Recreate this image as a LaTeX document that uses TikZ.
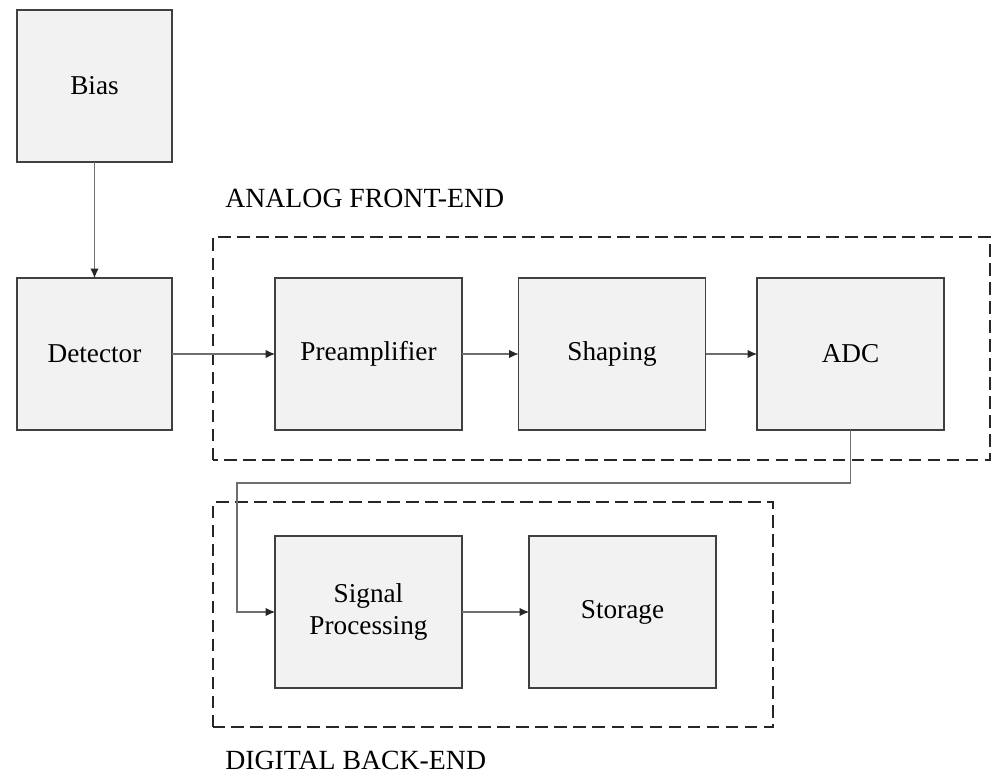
\documentclass[tikz,border=0pt]{standalone}
\usepackage{fontspec}
\setmainfont{Liberation Serif}
\usetikzlibrary{arrows.meta}

\definecolor{boxfill}{HTML}{F2F2F2}
\definecolor{boxline}{HTML}{404040}
\definecolor{wire}{HTML}{6E6E6E}

\tikzset{
	block/.style={draw=boxline, fill=boxfill, line width=1.1pt, inner sep=0pt, outer sep=0pt,
		minimum height=3.04cm, align=center, font=\fontsize{15.5}{18}\selectfont},
	smallblock/.style={block, minimum width=3.1cm},
	wideblock/.style={block, minimum width=3.74cm},
	group/.style={draw=black!85, line width=1.5pt, dash pattern=on 0.25cm off 0.13cm},
	grouplabel/.style={anchor=west, inner sep=0pt, font=\fontsize{15.8}{18}\selectfont},
	signal/.style={draw=wire, line width=0.6pt, -{Latex[length=1.9mm,width=1.7mm,color=black!85]}}
}

\begin{document}
\begin{tikzpicture}
	\useasboundingbox (0,0) rectangle (19.84,15.46);
	% dashed groups
	\draw[group] (4.26,6.26) rectangle (19.8,10.72);
	\draw[group] (4.26,0.92) rectangle (15.46,5.42);
	\node[grouplabel] (analog) at (4.5,11.5) {ANALOG FRONT-END};
	\node[grouplabel] (digital) at (4.5,0.26) {DIGITAL BACK-END};
	% blocks
	\node[smallblock] (bias) at (1.89,13.74) {Bias};
	\node[smallblock] (det) at (1.89,8.38) {Detector};
	\node[wideblock] (pre) at (7.37,8.38) {Preamplifier};
	\node[wideblock] (shp) at (12.24,8.38) {Shaping};
	\node[wideblock] (adc) at (17.01,8.38) {ADC};
	\node[wideblock] (sig) at (7.37,3.22) {Signal\\Processing};
	\node[wideblock] (sto) at (12.45,3.22) {Storage};
	\coordinate (turn) at (4.74,5.8);
	% connections
	\draw[signal] (bias) -- (det);
	\draw[signal] (det) -- (pre);
	\draw[signal] (pre) -- (shp);
	\draw[signal] (shp) -- (adc);
	\draw[signal] (adc.south) |- (turn) |- (sig.west);
	\draw[signal] (sig) -- (sto);
\end{tikzpicture}
\end{document}
